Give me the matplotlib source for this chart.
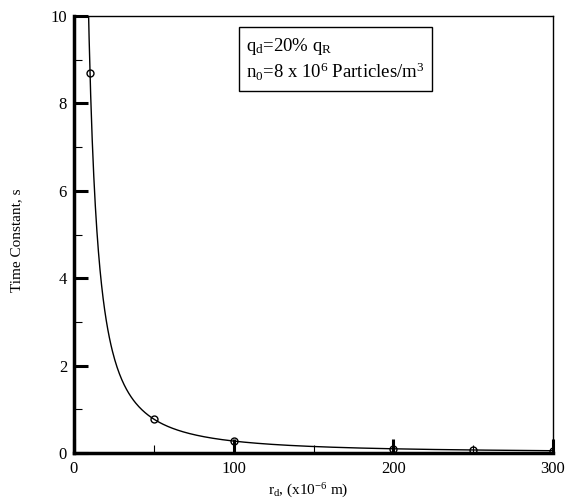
import numpy as np
import matplotlib
matplotlib.use("Agg")
import matplotlib.pyplot as plt
from matplotlib.ticker import MultipleLocator

plt.rcParams['font.family'] = ['Liberation Serif', 'DejaVu Serif']
plt.rcParams['mathtext.fontset'] = 'custom'
plt.rcParams['mathtext.rm'] = 'Liberation Serif'
plt.rcParams['mathtext.it'] = 'Liberation Serif'

# data
r_d = [10, 50, 100, 200, 250, 300]
time_constant = [8.7, 0.78, 0.27, 0.10, 0.07, 0.05]
x_ticks = [0, 100, 200, 300]
y_ticks = [0, 2, 4, 6, 8, 10]

# power-law fit through the points
coef = np.polyfit(np.log(r_d), np.log(time_constant), 1)
xf = np.linspace(8, 300, 600)
yf = np.exp(np.polyval(coef, np.log(xf)))

fig = plt.figure(figsize=(5.68, 5.04), dpi=100)
ax = fig.add_axes([74/568, 1-453/504, (553-74)/568, (453-16)/504])

ax.plot(xf, yf, color='black', lw=1.0)
ax.plot(r_d, time_constant, 'o', mfc='none', mec='black', ms=5, mew=1.0)

ax.set_xlim(0, 300)
ax.set_ylim(0, 10)
ax.set_xticks(x_ticks)
ax.set_yticks(y_ticks)
ax.xaxis.set_minor_locator(MultipleLocator(50))
ax.yaxis.set_minor_locator(MultipleLocator(1))
ax.tick_params(which='major', direction='in', length=10, width=2.2, labelsize=12,
               top=False, right=False)
ax.tick_params(axis='x', which='major', pad=6)
ax.tick_params(axis='y', which='major', pad=5)
ax.tick_params(which='minor', direction='in', length=6, width=0.8, top=False, right=False)

ax.spines['left'].set_linewidth(2.5)
ax.spines['bottom'].set_linewidth(2.5)
ax.spines['top'].set_linewidth(1.0)
ax.spines['right'].set_linewidth(1.0)

ax.set_xlabel(r'r$_\mathregular{d}$, (x10$^{\mathregular{-6}}$ m)', fontsize=11)
ax.xaxis.set_label_coords(0.49, 1 - (491 - 16) / (453 - 16))
ax.xaxis.label.set_va('center')
ax.set_ylabel('Time Constant, s', fontsize=11)
ax.yaxis.set_label_coords((17 - 74) / (553 - 74), 1 - (240 - 16) / (453 - 16))
ax.yaxis.label.set_va('center')

ax.text(0.36, 0.955,
        'q$_\\mathregular{d}$=20% q$_\\mathregular{R}$\nn$_\\mathregular{0}$=8 x 10$^\\mathregular{6}$ Particles/m$^\\mathregular{3}$',
        transform=ax.transAxes, fontsize=13.5, va='top', ha='left', linespacing=1.25,
        bbox=dict(boxstyle='square,pad=0.4', fc='white', ec='black', lw=1.0))

fig.savefig('out.png', dpi=100)
